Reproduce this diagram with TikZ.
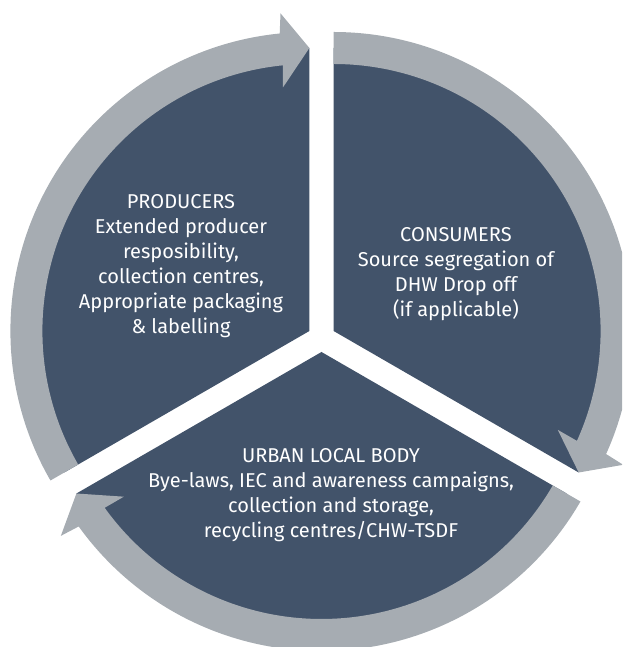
\documentclass[tikz,border=0pt]{standalone}
\usepackage{fontspec}
\setmainfont{Fira Sans}
\usepackage{tikz}
\definecolor{navy}{RGB}{66,83,106}
\definecolor{ringgray}{RGB}{166,172,178}
\tikzset{
  segment/.style={fill=navy},
  band/.style={fill=ringgray},
  seglabel/.style={text=white, align=center, inner sep=0pt, font=\fontsize{20}{25}\selectfont}
}

\begin{document}
\begin{tikzpicture}[x=1pt,y=1pt]
            \useasboundingbox (0,0) rectangle (622,647);
            \clip (0,0) rectangle (622,647);
            \coordinate (P) at (309.4,316);
            \coordinate (C) at (333.6,316);
            \coordinate (U) at (321.5,295);
            % producers
            \begin{scope}[shift={(P)}]
            \fill [segment] (0,0) -- (90:283pt) arc [start angle=90, end angle=210, radius=283pt] -- cycle;
            \fill [band] (210:299pt) arc [start angle=210, end angle=95.7, radius=299pt] -- (95.2:319pt) -- (90:283pt) -- (96.2:245pt) -- (95.7:267pt) arc [start angle=95.7, end angle=210, radius=267pt] -- cycle;
            \end{scope}
            % consumers
            \begin{scope}[shift={(C)}]
            \fill [segment] (0,0) -- (-30:283pt) arc [start angle=-30, end angle=90, radius=283pt] -- cycle;
            \fill [band] (90:299pt) arc [start angle=90, end angle=-24.3, radius=299pt] -- (-24.8:319pt) -- (-30:283pt) -- (-23.8:245pt) -- (-24.3:267pt) arc [start angle=-24.3, end angle=90, radius=267pt] -- cycle;
            \end{scope}
            % urban local body
            \begin{scope}[shift={(U)}]
            \fill [segment] (0,0) -- (210:283pt) arc [start angle=210, end angle=330, radius=283pt] -- cycle;
            \fill [band] (330:299pt) arc [start angle=330, end angle=215.7, radius=299pt] -- (215.2:319pt) -- (210:283pt) -- (216.2:245pt) -- (215.7:267pt) arc [start angle=215.7, end angle=330, radius=267pt] -- cycle;
            \end{scope}
            \node [seglabel] (producers) at (181,381) {PRODUCERS\\Extended producer\\resposibility,\\collection centres,\\Appropriate packaging\\\& labelling};
            \node [seglabel] (consumers) at (456,373) {CONSUMERS\\Source segregation of\\DHW Drop off\\(if applicable)};
            \node [seglabel] (ulb) at (331,152) {URBAN LOCAL BODY\\Bye-laws, IEC and awareness campaigns,\\collection and storage,\\recycling centres/CHW-TSDF};
        \end{tikzpicture}
\end{document}
